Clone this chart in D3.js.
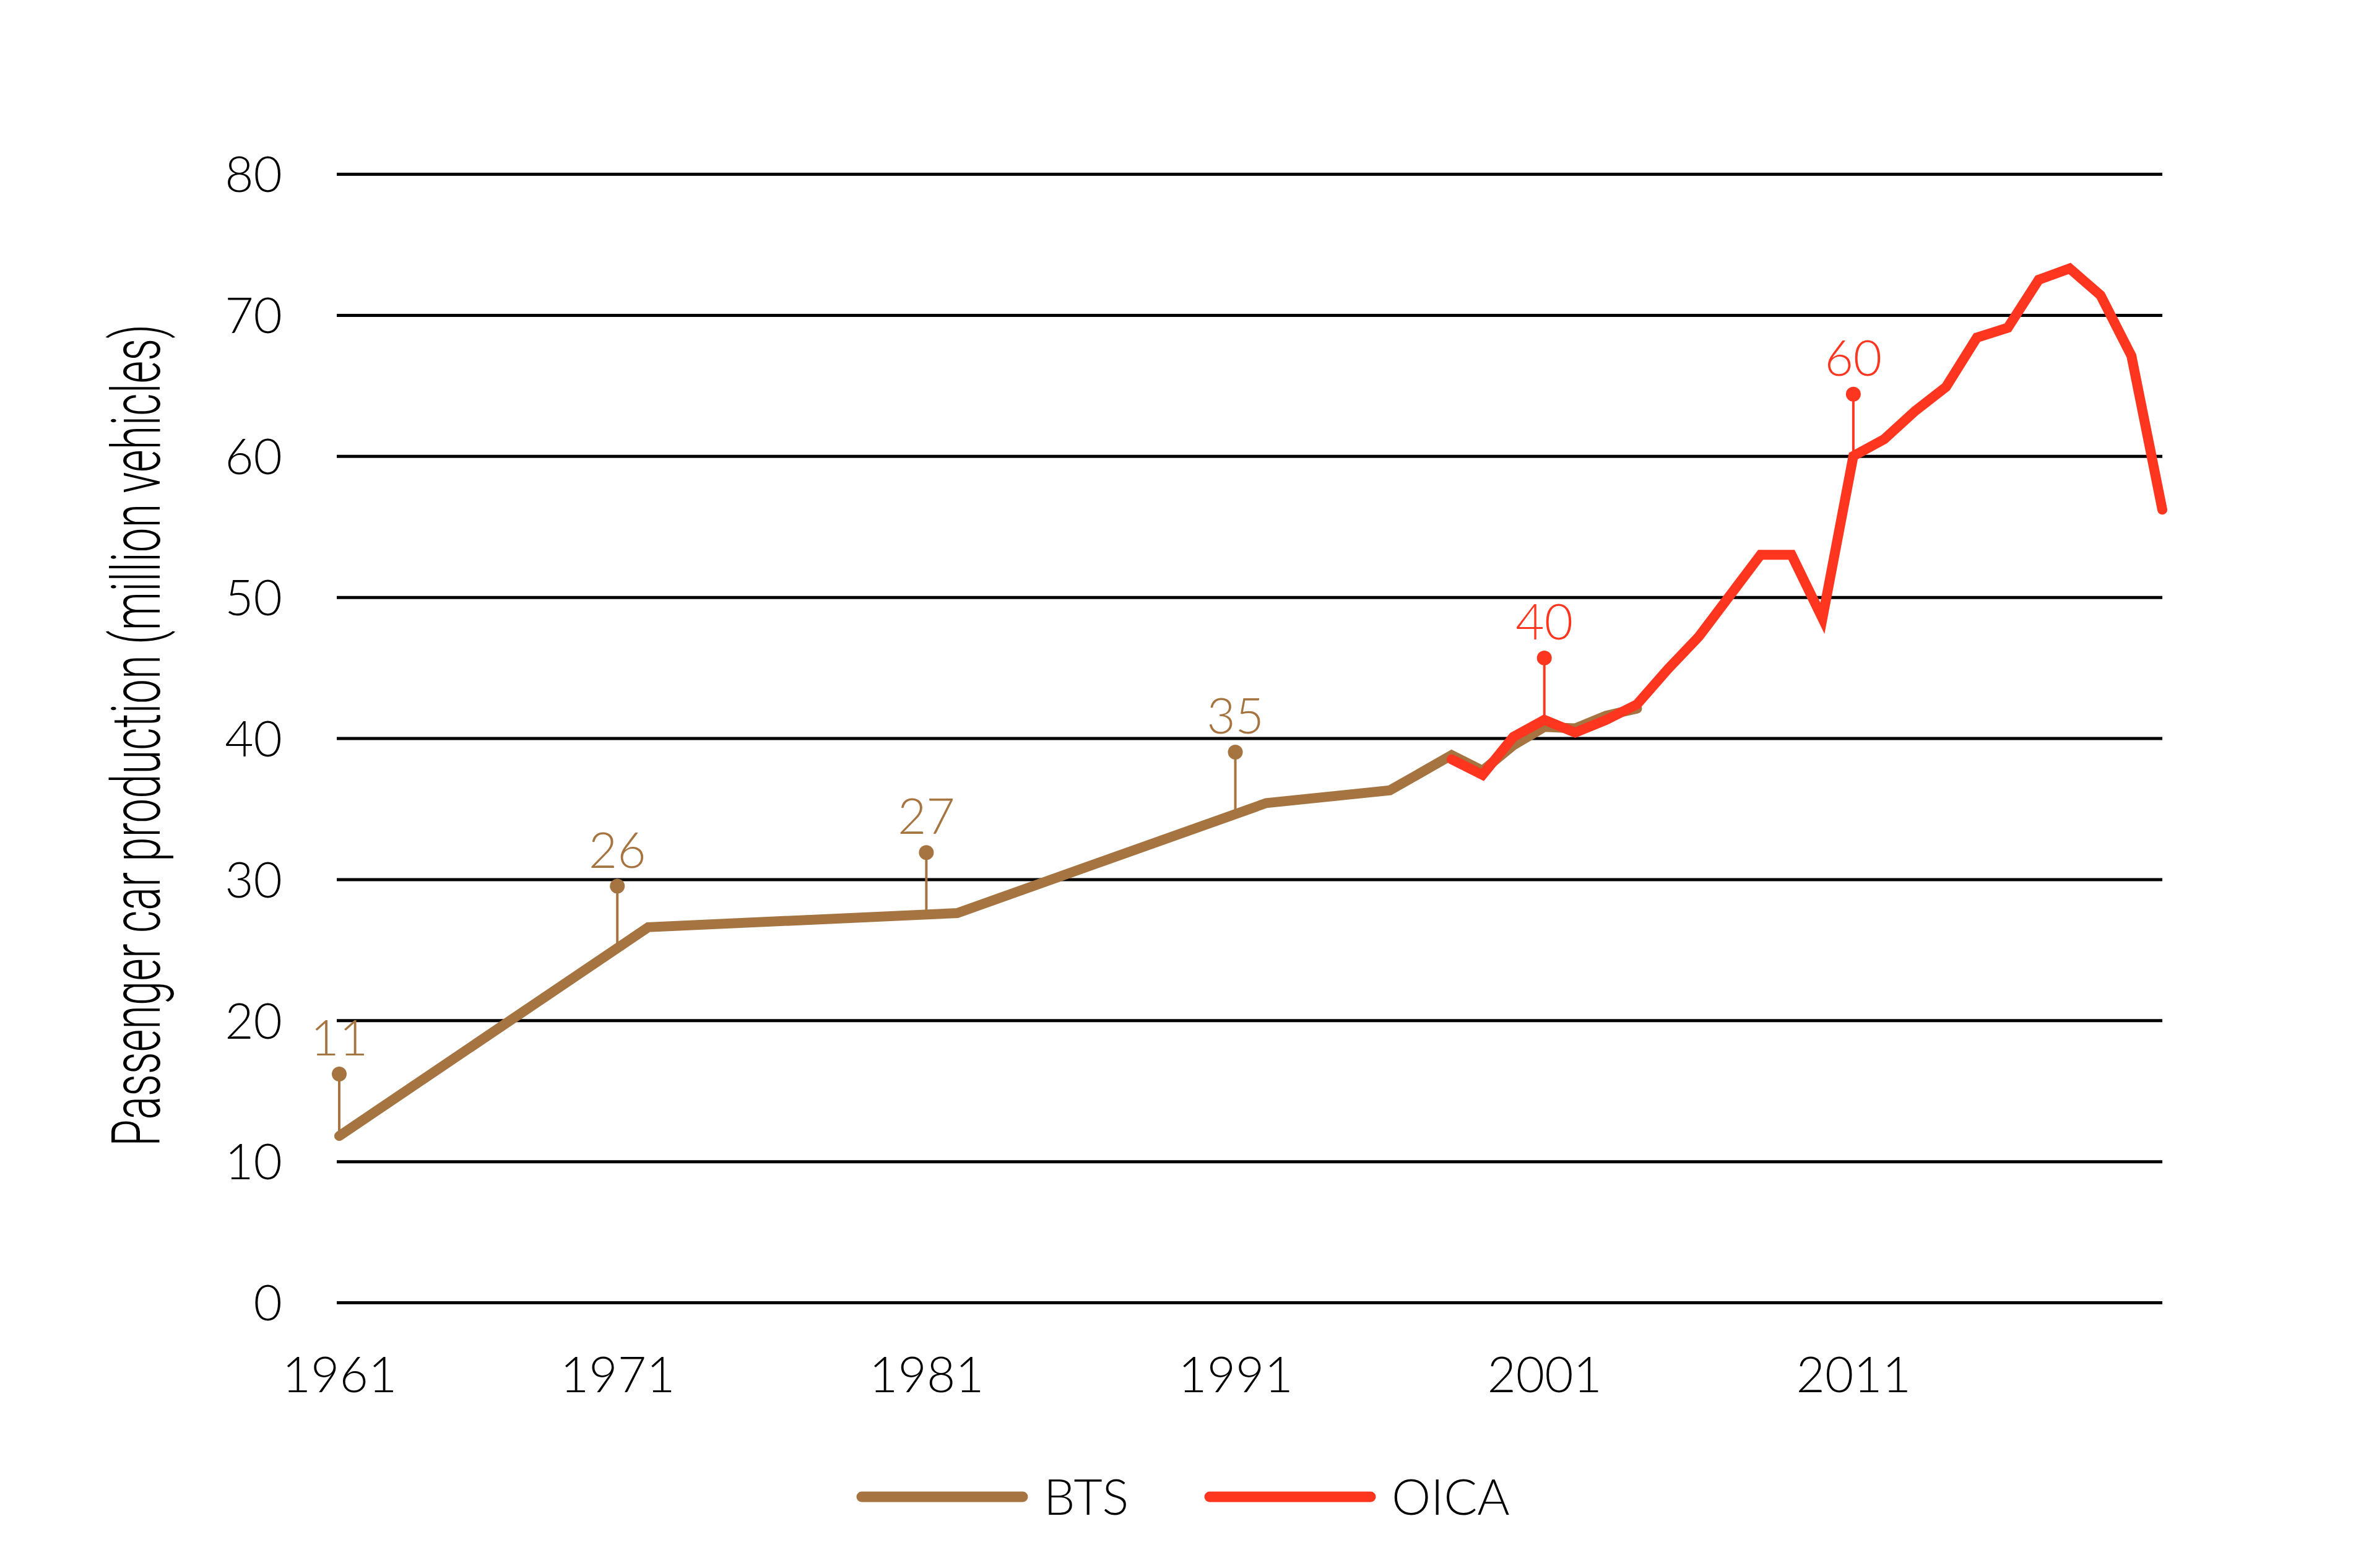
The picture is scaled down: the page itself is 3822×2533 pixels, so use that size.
<!DOCTYPE html>
<html>
<head>
<meta charset="utf-8">
<script src="https://cdn.jsdelivr.net/npm/d3@7"></script>
<style>
  html, body { margin: 0; padding: 0; background: #ffffff; }
  svg { display: block; }
</style>
</head>
<body>
<script>
// ---------- DATA ----------
const btsYears  = [1962, 1972, 1982, 1992, 1996, 1998, 1999, 2000, 2001, 2002, 2003, 2004];
const btsValues = [11.8, 26.6, 27.6, 35.4, 36.3, 38.8, 37.7, 39.5, 40.8, 40.7, 41.6, 42.1];

const oicaYears  = [1998, 1999, 2000, 2001, 2002, 2003, 2004, 2005, 2006, 2007, 2008, 2009, 2010,
                    2011, 2012, 2013, 2014, 2015, 2016, 2017, 2018, 2019, 2020, 2021];
const oicaValues = [38.5, 37.4, 40.1, 41.3, 40.4, 41.3, 42.4, 44.9, 47.2, 50.1, 53.0, 53.0, 48.5,
                    60.0, 61.2, 63.2, 64.9, 68.4, 69.1, 72.5, 73.3, 71.4, 67.1, 56.2];

const annotYears  = [1961, 1971, 1981, 1991, 2001, 2011];
const annotLabels = ["11", "26", "27", "35", "40", "60"];
const annotSeries = ["BTS", "BTS", "BTS", "BTS", "OICA", "OICA"];

const xTickValues = [1961, 1971, 1981, 1991, 2001, 2011];
const yTickValues = [0, 10, 20, 30, 40, 50, 60, 70, 80];

const seriesNames  = ["BTS", "OICA"];
const seriesColors = ["#a57441", "#ff361f"];
const yTitle = "Passenger car production (million vehicles)";

// ---------- LAYOUT ----------
const W = 3822, H = 2533;
const plotLeft = 548, plotRight = 3493, gridLeft = 544;
const plotTop = 281, plotBottom = 2104;
const FONT = "Lato, 'Open Sans', sans-serif";
const FW = 300;

const svg = d3.select("body").append("svg")
  .attr("width", W).attr("height", H)
  .attr("viewBox", `0 0 ${W} ${H}`);

const x = d3.scaleLinear().domain([1962, 2021]).range([plotLeft, plotRight]).clamp(true);
const y = d3.scaleLinear().domain([0, 80]).range([plotBottom, plotTop]);

const color = d3.scaleOrdinal().domain(seriesNames).range(seriesColors);

// ---------- GRID + Y AXIS ----------
const yAxis = d3.axisLeft(y).tickValues(yTickValues).tickSize(0).tickPadding(0);
const yG = svg.append("g").attr("transform", `translate(${gridLeft},0)`).call(yAxis);
yG.select(".domain").remove();
yG.selectAll(".tick").append("line")
  .attr("x1", 0).attr("x2", plotRight - gridLeft)
  .attr("stroke", "#000").attr("stroke-width", 5);
yG.selectAll(".tick text")
  .attr("x", -88).attr("dy", "0.36em")
  .attr("text-anchor", "end")
  .attr("font-family", FONT).attr("font-weight", FW)
  .attr("font-size", 80).attr("fill", "#000");

// ---------- X AXIS ----------
const xAxis = d3.axisBottom(x).tickValues(xTickValues).tickFormat(d3.format("d")).tickSize(0).tickPadding(0);
const xG = svg.append("g").attr("transform", `translate(0,${plotBottom})`).call(xAxis);
xG.select(".domain").remove();
xG.selectAll(".tick text")
  .attr("y", 145).attr("dy", 0)
  .attr("font-family", FONT).attr("font-weight", FW)
  .attr("font-size", 80).attr("fill", "#000");

// ---------- Y TITLE ----------
svg.append("text")
  .attr("transform", `translate(258,1188) rotate(-90)`)
  .attr("text-anchor", "middle")
  .attr("font-family", "Roboto, 'DejaVu Sans Condensed', sans-serif")
  .attr("font-weight", 300)
  .attr("font-size", 110)
  .attr("fill", "#000")
  .attr("textLength", 1328)
  .attr("lengthAdjust", "spacingAndGlyphs")
  .text(yTitle);

// ---------- SERIES ----------
const btsData  = btsYears.map((yr, i) => ({ year: yr, value: btsValues[i] }));
const oicaData = oicaYears.map((yr, i) => ({ year: yr, value: oicaValues[i] }));
const seriesData = { BTS: btsData, OICA: oicaData };

function valueAt(series, year) {
  const d = seriesData[series];
  const yr = Math.max(d[0].year, Math.min(d[d.length - 1].year, year));
  for (let i = 0; i < d.length - 1; i++) {
    if (yr >= d[i].year && yr <= d[i + 1].year) {
      const t = (yr - d[i].year) / (d[i + 1].year - d[i].year);
      return d[i].value + t * (d[i + 1].value - d[i].value);
    }
  }
  return d[d.length - 1].value;
}

// annotations (stems + dots + labels) drawn beneath lines
const stemLen = 100;
const ann = svg.append("g");
annotYears.forEach((yr, i) => {
  const s = annotSeries[i];
  const cx = x(yr);
  const lineY = y(valueAt(s, yr));
  const dotY = lineY - stemLen;
  ann.append("line")
    .attr("x1", cx).attr("x2", cx).attr("y1", lineY).attr("y2", dotY)
    .attr("stroke", color(s)).attr("stroke-width", 4);
  ann.append("circle")
    .attr("cx", cx).attr("cy", dotY).attr("r", 12)
    .attr("fill", color(s));
  ann.append("text")
    .attr("x", cx).attr("y", dotY - 30)
    .attr("text-anchor", "middle")
    .attr("font-family", FONT).attr("font-weight", FW)
    .attr("font-size", 80)
    .attr("fill", color(s))
    .text(annotLabels[i]);
});

const line = d3.line().x(d => x(d.year)).y(d => y(d.value));

seriesNames.forEach(name => {
  svg.append("path")
    .datum(seriesData[name])
    .attr("d", line)
    .attr("fill", "none")
    .attr("stroke", color(name))
    .attr("stroke-width", 16)
    .attr("stroke-linejoin", "miter")
    .attr("stroke-miterlimit", 4)
    .attr("stroke-linecap", "round");
});

// ---------- LEGEND ----------
const legendY = 2418;
const legendItems = [
  { name: "BTS",  x0: 1392 },
  { name: "OICA", x0: 1954 }
];
const lg = svg.append("g");
legendItems.forEach(item => {
  lg.append("line")
    .attr("x1", item.x0).attr("x2", item.x0 + 260)
    .attr("y1", legendY).attr("y2", legendY)
    .attr("stroke", color(item.name)).attr("stroke-width", 17)
    .attr("stroke-linecap", "round");
  lg.append("text")
    .attr("x", item.x0 + 294).attr("y", legendY).attr("dy", "0.36em")
    .attr("font-family", FONT).attr("font-weight", FW)
    .attr("font-size", 80).attr("fill", "#000")
    .text(item.name);
});
</script>
</body>
</html>
